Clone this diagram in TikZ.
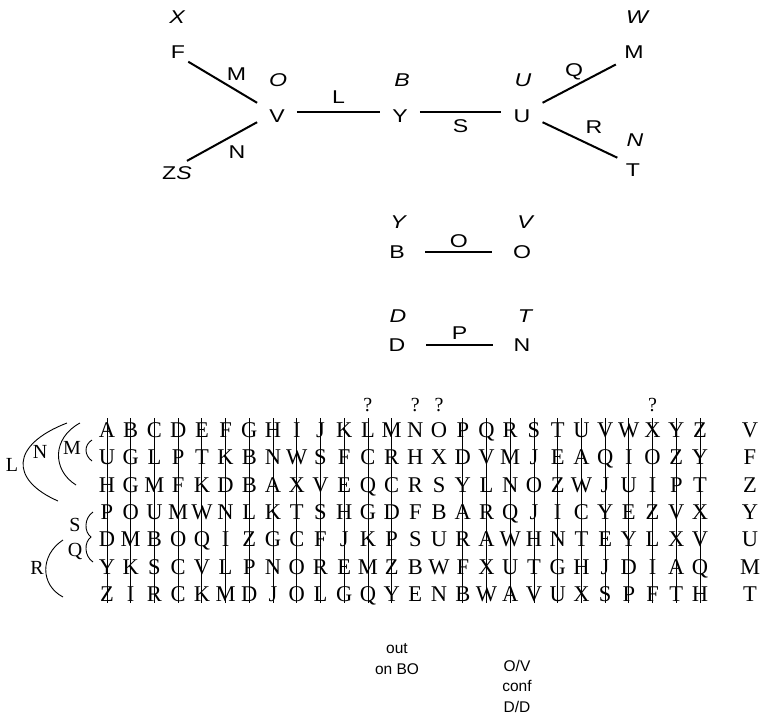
\documentclass[tikz,border=0pt]{standalone}
\usepackage{fontspec}
\setmainfont{Liberation Sans}[FakeStretch=1.25]
\newfontfamily\notefont{Liberation Sans}
\newfontfamily\gridfont{Liberation Serif}
\usetikzlibrary{positioning}

\begin{document}
\begin{tikzpicture}[x=1pt, y=-1pt,
  hub/.style={font=\fontsize{18.5}{20}\selectfont, text height=19pt,
    text depth=0pt, inner xsep=12pt, inner ysep=0pt},
  leaf/.style={font=\fontsize{18.5}{20}\selectfont, text height=13pt,
    text depth=0pt, inner sep=3pt},
  pair/.style={font=\fontsize{18.5}{20}\selectfont, text height=13pt,
    text depth=0pt, inner xsep=20.5pt, inner ysep=3pt},
  tag/.style={font=\fontsize{18.5}{20}\selectfont\itshape, text height=13pt,
    text depth=0pt, inner sep=0pt},
  lbl/.style={font=\fontsize{18.5}{20}\selectfont, inner sep=2pt},
  edge/.style={line width=2pt},
  cell/.style={font=\gridfont\fontsize{22.5}{24}\selectfont, text height=15pt,
    text depth=0pt, inner sep=0pt},
  side/.style={font=\gridfont\fontsize{20}{22}\selectfont, text height=13.5pt,
    text depth=0pt, inner sep=0pt},
  qmark/.style={font=\gridfont\fontsize{20}{20}\selectfont, inner sep=0pt},
  colline/.style={line width=0.8pt, shorten <=-4pt, shorten >=-1pt},
  bracket/.style={line width=0.9pt},
  note/.style={font=\notefont\fontsize{15.5}{20.5}\selectfont, align=center,
    inner sep=0pt}
]
  \useasboundingbox (0,0) rectangle (761,717);

  % top graph
  \node[leaf] (f) at (178,52) {F};
  \node[leaf] (zs) at (177,173) {Z\textit{S}};
  \node[hub] (v) at (277,112.5) {V};
  \node[hub] (y) at (400,112.5) {Y};
  \node[hub] (u) at (522,112.5) {U};
  \node[leaf] (m) at (634,52) {M};
  \node[leaf] (t) at (633,170) {T};
  \node[tag] (tx) at (177,17) {X};
  \node[tag] (to) at (278,80) {O};
  \node[tag] (tb) at (402,80) {B};
  \node[tag] (tu) at (523,80) {U};
  \node[tag] (tw) at (637,17) {W};
  \node[tag] (tn) at (635,140) {N};
  \draw[edge] (f.south east) -- (v.north west) node[lbl, pos=0.7, above=7pt] {M};
  \draw[edge, shorten <=5pt] (zs.60) -- (v.south west) node[lbl, pos=0.73, below=9pt] {N};
  \draw[edge] (v) -- (y) node[lbl, midway, above=6pt] {L};
  \draw[edge] (y) -- (u) node[lbl, midway, below=4pt] {S};
  \draw[edge, shorten >=6pt] (u.north east) -- (m.south west) node[lbl, pos=0.4, above=3pt] {Q};
  \draw[edge, shorten >=6pt] (u.south east) -- (t.north west) node[lbl, pos=0.64, above=10pt] {R};

  % pairs
  \node[pair] (b) at (397,252) {B};
  \node[pair] (o) at (522,252) {O};
  \node[pair] (d) at (397,345) {D};
  \node[pair] (n) at (522,345) {N};
  \node[tag] (ty) at (398,222) {Y};
  \node[tag] (tv) at (525,222) {V};
  \node[tag] (td) at (398,316) {D};
  \node[tag] (tt) at (525,316) {T};
  \draw[edge] (b) -- (o) node[lbl, midway, above=1pt] {O};
  \draw[edge] (d) -- (n) node[lbl, midway, above=3pt] {P};

  % grid
  \foreach \word [count=\r] in {
    {A,B,C,D,E,F,G,H,I,J,K,L,M,N,O,P,Q,R,S,T,U,V,W,X,Y,Z},
    {U,G,L,P,T,K,B,N,W,S,F,C,R,H,X,D,V,M,J,E,A,Q,I,O,Z,Y},
    {H,G,M,F,K,D,B,A,X,V,E,Q,C,R,S,Y,L,N,O,Z,W,J,U,I,P,T},
    {P,O,U,M,W,N,L,K,T,S,H,G,D,F,B,A,R,Q,J,I,C,Y,E,Z,V,X},
    {D,M,B,O,Q,I,Z,G,C,F,J,K,P,S,U,R,A,W,H,N,T,E,Y,L,X,V},
    {Y,K,S,C,V,L,P,N,O,R,E,M,Z,B,W,F,X,U,T,G,H,J,D,I,A,Q},
    {Z,I,R,C,K,M,D,J,O,L,G,Q,Y,E,N,B,W,A,V,U,X,S,P,F,T,H}} {
    \foreach \ch [count=\c] in \word
      \node[cell] (g-\r-\c) at ({107+(\c-1)*23.72}, {430+(\r-1)*27.3}) {\ch};
  }
  \foreach \k [count=\r] in {V,F,Z,Y,U,M,T}
    \node[cell] (k-\r) at (750, {430+(\r-1)*27.3}) {\k};
  \foreach \c in {1,...,13,16,17,...,26}
    \draw[colline] (g-1-\c.north) -- (g-7-\c.south);
  \foreach \c in {12,14,15,24}
    \node[qmark, above=10.5pt of g-1-\c] (q-\c) {?};

  % brackets
  \node[side] (sl) at (12,465) {L};
  \node[side] (sn) at (40,452) {N};
  \node[side] (sm) at (72,448) {M};
  \node[side] (ss) at (75,525) {S};
  \node[side] (sq) at (75,550) {Q};
  \node[side] (sr) at (37,568) {R};
  \draw[bracket] (67,423) .. controls (10,445) and (10,480) .. (58,501);
  \draw[bracket] (80,423) .. controls (52,438) and (52,470) .. (76,485);
  \draw[bracket] (92,440) .. controls (84,445) and (84,455) .. (92,461);
  \draw[bracket] (93,512) .. controls (84,518) and (84,532) .. (91,537)
    .. controls (84,542) and (84,556) .. (93,562);
  \draw[bracket] (63,540) .. controls (40,555) and (40,585) .. (63,597);

  % notes
  \node[note] (outnote) at (397,659) {out\\on BO};
  \node[note] (confnote) at (517,686) {O/V\\conf\\D/D};
\end{tikzpicture}
\end{document}
